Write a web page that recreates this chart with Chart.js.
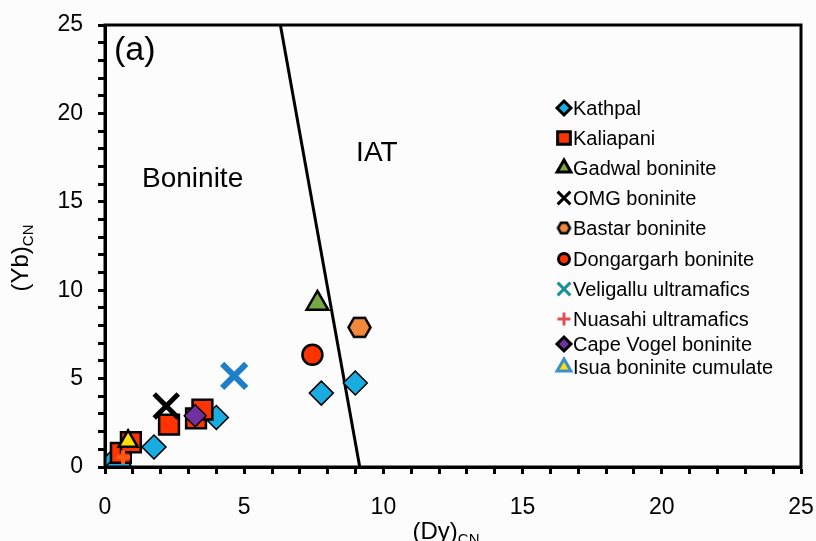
<!DOCTYPE html>
<html>
<head>
<meta charset="utf-8">
<script src="https://cdn.jsdelivr.net/npm/chart.js@4.4.1/dist/chart.umd.min.js"></script>
<style>
  html, body { margin: 0; padding: 0; background: #fcfcfc; }
  canvas { display: block; }
</style>
</head>
<body>
<canvas id="chart" width="816" height="541"></canvas>
<script>
// sample groups, values as (Dy)CN, (Yb)CN
const kathpal = [[0.3, 0.35], [0.5, 0.1], [1.76, 1.13], [4.0, 2.8], [7.77, 4.18], [8.99, 4.75]];
const kaliapani = [[0.57, 0.8], [0.93, 1.4], [2.3, 2.4], [3.27, 2.75], [3.5, 3.25]];
const gadwal = [[7.63, 9.25]];
const omg = [[2.2, 3.45]];
const bastar = [[9.14, 7.9]];
const dongargarh = [[7.45, 6.35]];
const veligallu = [[4.64, 5.15]];
const nuasahi = [[0.65, 0.55]];
const capeVogel = [[3.24, 2.9]];
const isua = [[0.83, 1.45]];

// boninite / IAT dividing line
const divider = [[6.3, 25], [9.15, 0]];

const xTicks = [0, 5, 10, 15, 20, 25];
const yTicks = [0, 5, 10, 15, 20, 25];

function pts(arr) { return arr.map(p => ({ x: p[0], y: p[1] })); }

function hexCanvas(r, fill, lw) {
  const c = document.createElement('canvas');
  const s = Math.ceil(2 * r + lw + 2);
  c.width = s; c.height = s;
  const g = c.getContext('2d');
  g.beginPath();
  for (let i = 0; i < 6; i++) {
    const a = i * Math.PI / 3;
    const px = s / 2 + r * Math.cos(a), py = s / 2 + r * Math.sin(a);
    if (i === 0) g.moveTo(px, py); else g.lineTo(px, py);
  }
  g.closePath();
  g.fillStyle = fill; g.fill();
  g.lineWidth = lw; g.strokeStyle = '#000'; g.stroke();
  return c;
}

const bastarHex = hexCanvas(11, '#f08a3a', 2.5);
const bastarHexSmall = hexCanvas(6, '#f08a3a', 2.5);

const groups = [
  { label: 'Kathpal', data: kathpal, style: 'rectRot', r: 12, bg: '#18ace0', bc: '#000', bw: 1.5, lr: 7, lbw: 1.5 },
  { label: 'Kaliapani', data: kaliapani, style: 'rect', r: 14, bg: '#ff3300', bc: '#000', bw: 2.5, lr: 9, lbw: 2.5 },
  { label: 'Gadwal boninite', data: gadwal, style: 'triangle', r: 12.5, bg: '#76a844', bc: '#000', bw: 2.5, lr: 8, lbw: 1.5 },
  { label: 'OMG boninite', data: omg, style: 'crossRot', r: 17, bg: '#000', bc: '#000', bw: 5, lr: 9, lbw: 3.5 },
  { label: 'Bastar boninite', data: bastar, style: bastarHex, r: 11, bg: '#f08a3a', bc: '#000', bw: 2.5, lr: 6, ls: bastarHexSmall },
  { label: 'Dongargarh boninite', data: dongargarh, style: 'circle', r: 10, bg: '#ff3300', bc: '#000', bw: 2.5, lr: 5.5, lbw: 2.5 },
  { label: 'Veligallu ultramafics', data: veligallu, style: 'crossRot', r: 17, bg: '#1e7fc8', bc: '#1e7fc8', bw: 6, lr: 9, lbw: 4.5, lc: '#1a9098' },
  { label: 'Nuasahi ultramafics', data: nuasahi, style: 'cross', r: 7, bg: '#ff5a1a', bc: '#ff5a1a', bw: 4, lr: 6.5, lbw: 4, lc: '#e05050' },
  { label: 'Cape Vogel boninite', data: capeVogel, style: 'rectRot', r: 11, bg: '#7030a0', bc: '#000', bw: 1.5, lr: 7, lbw: 1.5 },
  { label: 'Isua boninite cumulate', data: isua, style: 'triangle', r: 11, bg: '#ffe000', bc: '#000', bw: 2.5, lr: 8, lbw: 2, lbc: '#3a8fd0' }
];

const datasets = groups.map((g, i) => ({
  label: g.label,
  data: pts(g.data),
  pointStyle: g.style,
  pointRadius: g.r,
  pointHoverRadius: g.r,
  backgroundColor: g.bg,
  borderColor: g.bc,
  pointBorderWidth: g.bw,
  showLine: false,
  order: groups.length - i
}));

datasets.unshift({
  type: 'line',
  label: 'divider',
  data: pts(divider),
  borderColor: '#000',
  borderWidth: 3,
  pointRadius: 0,
  fill: false,
  order: 100
});

const FONT = '"Liberation Sans", Arial, sans-serif';

const decorations = {
  id: 'decorations',
  afterDraw(chart) {
    const { ctx, chartArea: a, scales: { x, y } } = chart;
    ctx.save();
    // frame
    ctx.lineWidth = 3;
    ctx.strokeStyle = '#000';
    ctx.strokeRect(a.left, a.top, a.right - a.left, a.bottom - a.top);

    // field labels
    ctx.fillStyle = '#000';
    ctx.textBaseline = 'alphabetic';
    ctx.textAlign = 'left';
    ctx.font = '28px ' + FONT;
    ctx.fillText('Boninite', x.getPixelForValue(1.33), y.getPixelForValue(15.84));
    ctx.fillText('IAT', x.getPixelForValue(9.02), y.getPixelForValue(17.3));
    ctx.font = '34px ' + FONT;
    ctx.fillText('(a)', x.getPixelForValue(0.32), y.getPixelForValue(23.02));

    // axis titles with subscripts
    const big = '24px ' + FONT;
    const small = '15px ' + FONT;
    function subTitle(main, sub, cx, base, rot) {
      ctx.save();
      ctx.translate(cx, base);
      ctx.rotate(rot);
      ctx.font = big;
      const w1 = ctx.measureText(main).width;
      ctx.font = small;
      const w2 = ctx.measureText(sub).width;
      const start = -(w1 + w2) / 2;
      ctx.textAlign = 'left';
      ctx.textBaseline = 'alphabetic';
      ctx.font = big;
      ctx.fillText(main, start, 0);
      ctx.font = small;
      ctx.fillText(sub, start + w1, 5);
      ctx.restore();
    }
    subTitle('(Dy)', 'CN', 446, 539, 0);
    subTitle('(Yb)', 'CN', 28, 258, -Math.PI / 2);

    // legend
    const lx = 564, tx = 573;
    const ly = [108, 138, 168, 198, 228, 259, 289, 319, 344, 367];
    ctx.font = '20px ' + FONT;
    groups.forEach((g, i) => {
      ctx.save();
      ctx.fillStyle = g.lc || g.bg;
      ctx.strokeStyle = g.lbc || g.lc || g.bc;
      const opts = {
        pointStyle: g.ls || g.style,
        radius: g.lr,
        rotation: 0,
        borderWidth: g.lbw || 2
      };
      Chart.helpers.drawPoint(ctx, opts, lx, ly[i]);
      ctx.restore();
      ctx.fillStyle = '#000';
      ctx.textAlign = 'left';
      ctx.textBaseline = 'middle';
      ctx.fillText(g.label, tx, ly[i] + 1);
    });
    ctx.restore();
  }
};

const tickFont = { family: FONT, size: 23 };

new Chart(document.getElementById('chart').getContext('2d'), {
  type: 'scatter',
  data: { datasets },
  options: {
    responsive: false,
    animation: false,
    layout: { autoPadding: false, padding: { top: 25, right: 15, left: 0, bottom: 0 } },
    plugins: {
      legend: { display: false },
      tooltip: { enabled: false }
    },
    scales: {
      x: {
        type: 'linear',
        min: 0,
        max: 25,
        afterFit(s) { s.height = 74; s.paddingLeft = 0; s.paddingRight = 0; },
        ticks: {
          stepSize: 1,
          autoSkip: false,
          maxRotation: 0,
          color: '#000',
          font: tickFont,
          padding: 20,
          callback: v => xTicks.includes(v) ? String(v) : ''
        },
        grid: { drawOnChartArea: false, drawTicks: true, tickLength: 7, tickWidth: 3, tickColor: '#000' },
        border: { display: true, color: '#000', width: 3 }
      },
      y: {
        type: 'linear',
        min: 0,
        max: 25,
        afterFit(s) { s.width = 105; s.paddingTop = 0; s.paddingBottom = 0; },
        ticks: {
          stepSize: 1,
          autoSkip: false,
          color: '#000',
          font: tickFont,
          padding: 15,
          callback: v => yTicks.includes(v) ? String(v) : ''
        },
        grid: { drawOnChartArea: false, drawTicks: true, tickLength: 7, tickWidth: 3, tickColor: '#000' },
        border: { display: true, color: '#000', width: 3 }
      }
    }
  },
  plugins: [decorations]
});
</script>
</body>
</html>
